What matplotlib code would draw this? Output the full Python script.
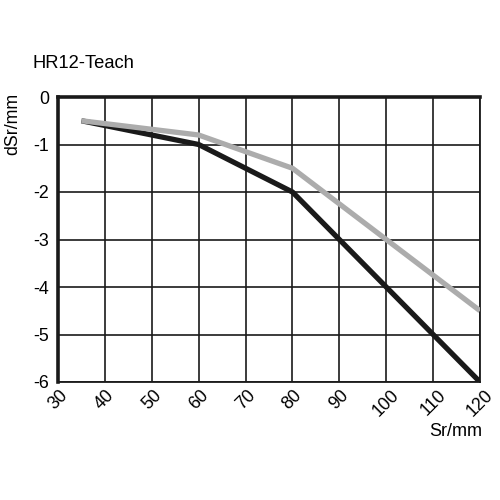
import matplotlib
matplotlib.use("Agg")
import matplotlib.pyplot as plt

plt.rcParams['font.family'] = ['Liberation Sans', 'DejaVu Sans']

black_x = [35, 60, 80, 120]
black_y = [-0.5, -1.0, -2.0, -6.0]
gray_x = [35, 60, 80, 120]
gray_y = [-0.5, -0.8, -1.5, -4.5]
x_ticks = [30, 40, 50, 60, 70, 80, 90, 100, 110, 120]
y_ticks = [0, -1, -2, -3, -4, -5, -6]

fig = plt.figure(figsize=(5, 5), dpi=100)
ax = fig.add_axes([0.116, 0.236, 0.844, 0.570])
ax.set_xlim(30, 120)
ax.set_ylim(-6, 0)
ax.set_xticks(x_ticks)
ax.set_yticks(y_ticks)
ax.set_xticklabels([str(v) for v in x_ticks], rotation=45, ha='center', va='top',
                   fontsize=12.8)
ax.set_yticklabels([str(v) for v in y_ticks], fontsize=12.8)
ax.tick_params(axis='x', length=0, pad=3.5)
ax.tick_params(axis='y', length=0, pad=6.5)
ax.grid(True, color='#1a1a1a', linewidth=1.2)
ax.set_axisbelow(True)
for s in ['right', 'bottom']:
    ax.spines[s].set_linewidth(1.3)
for s in ['left', 'top']:
    ax.spines[s].set_linewidth(2.6)
for s in ax.spines.values():
    s.set_color('#1a1a1a')

ax.plot(black_x, black_y, color='#1a1a1a', linewidth=3.8, solid_capstyle='butt', zorder=3)
ax.plot(gray_x, gray_y, color='#acacac', linewidth=3.8, solid_capstyle='butt', zorder=4)

fig.text(0.066, 0.874, 'HR12-Teach', fontsize=13.2, ha='left', va='center')
fig.text(0.025, 0.752, 'dSr/mm', fontsize=12.8, rotation=90, ha='center', va='center')
fig.text(0.964, 0.138, 'Sr/mm', fontsize=13, ha='right', va='center')

fig.savefig('out.png', dpi=100, facecolor='white')
